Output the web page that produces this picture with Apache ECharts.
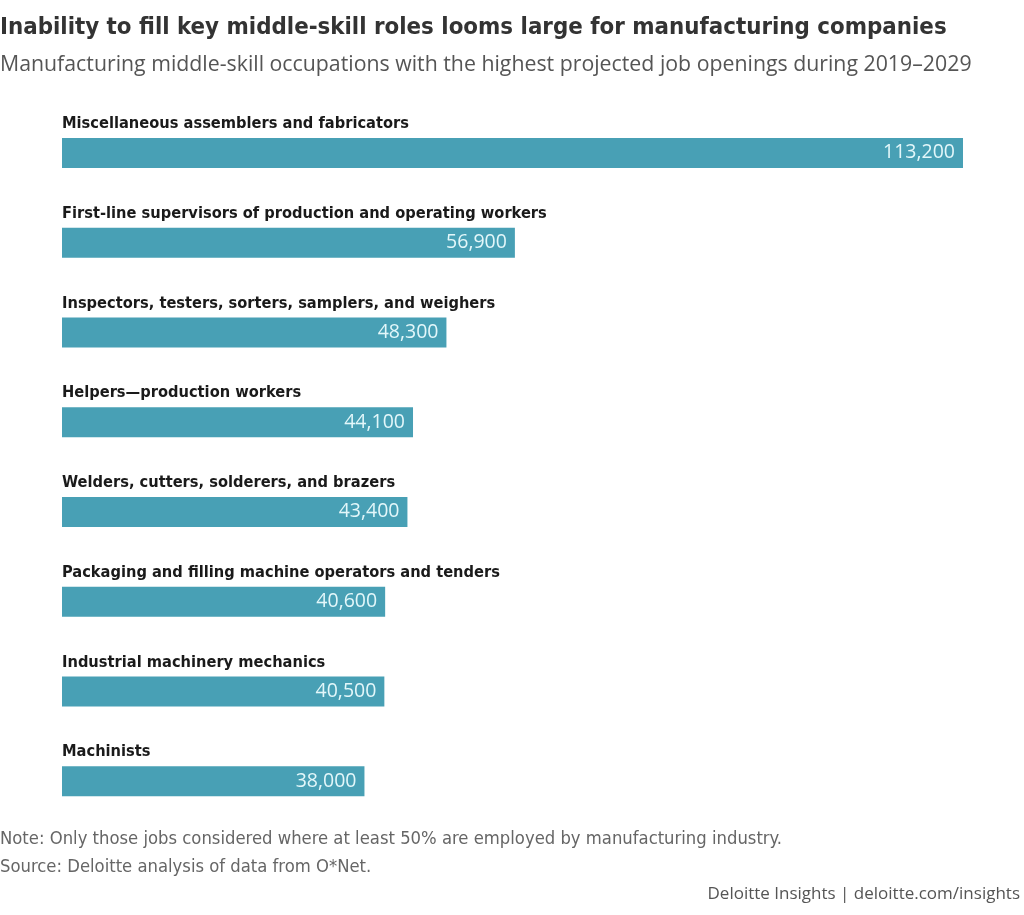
<!DOCTYPE html>
<html>
<head>
<meta charset="utf-8">
<script src="https://cdn.jsdelivr.net/npm/echarts@6/dist/echarts.min.js"></script>
<style>
html,body{margin:0;padding:0;background:#fff;}
#chart{width:1024px;height:915px;}
</style>
</head>
<body>
<div id="chart"></div>
<script>
const categories = [
  "Miscellaneous assemblers and fabricators",
  "First-line supervisors of production and operating workers",
  "Inspectors, testers, sorters, samplers, and weighers",
  "Helpers\u2014production workers",
  "Welders, cutters, solderers, and brazers",
  "Packaging and filling machine operators and tenders",
  "Industrial machinery mechanics",
  "Machinists"
];
const openings = [113200, 56900, 48300, 44100, 43400, 40600, 40500, 38000];

const titleText = "Inability to fill key middle-skill roles looms large for manufacturing companies";
const subtitleText = "Manufacturing middle-skill occupations with the highest projected job openings during 2019\u20132029";
const noteText = "Note: Only those jobs considered where at least 50% are employed by manufacturing industry.";
const sourceText = "Source: Deloitte analysis of data from O*Net.";
const footerText = "Deloitte Insights | deloitte.com/insights";

const COND = '"DejaVu Sans Condensed", "Liberation Sans", sans-serif';
const chart = echarts.init(document.getElementById('chart'));
const fmt = v => v.toLocaleString('en-US');
chart.setOption({
  backgroundColor: '#ffffff',
  animation: false,
  grid: {left: 62, right: 61, top: 108, bottom: 89, containLabel: false},
  xAxis: {type: 'value', min: 0, max: 113200, show: false},
  yAxis: {type: 'category', data: categories, inverse: true, show: false},
  series: [
    {
      type: 'bar',
      data: openings,
      barWidth: 30,
      itemStyle: {color: '#48a0b5'},
      label: {
        show: true, position: 'insideRight', distance: 8,
        formatter: p => fmt(p.value),
        color: '#e3f7fa', fontFamily: 'Open Sans', fontSize: 19.5
      }
    },
    {
      type: 'bar',
      data: openings,
      barWidth: 30,
      barGap: '-100%',
      itemStyle: {color: 'rgba(0,0,0,0)'},
      silent: true,
      label: {
        show: true, position: [0, -6], align: 'left', verticalAlign: 'bottom',
        formatter: p => p.name,
        color: '#1a1a1a', fontFamily: COND, fontWeight: 'bold', fontSize: 16.3
      }
    }
  ],
  graphic: [
    {type: 'text', left: 0, top: 16, style: {text: titleText, fill: '#333333', font: 'bold 23.8px ' + COND}},
    {type: 'text', left: 0, top: 54, style: {text: subtitleText, fill: '#555555', font: '21.3px "Open Sans"'}},
    {type: 'text', left: 0, top: 830, style: {text: noteText, fill: '#666666', font: '18.3px ' + COND}},
    {type: 'text', left: 0, top: 858, style: {text: sourceText, fill: '#666666', font: '18.3px ' + COND}},
    {type: 'text', right: 4, top: 886, style: {text: footerText, fill: '#555555', font: '17px "Open Sans"'}}
  ]
});
</script>
</body>
</html>
